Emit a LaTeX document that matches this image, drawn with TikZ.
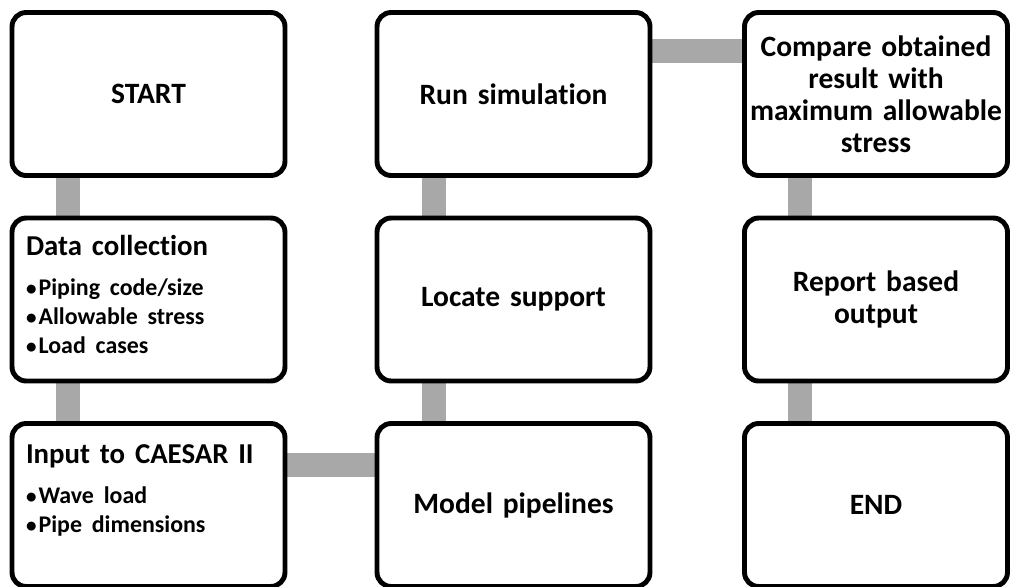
\documentclass[tikz,border=0pt]{standalone}
\usepackage{fontspec}
\setmainfont{Carlito}[Ligatures=NoCommon, WordSpace=0.8]
\usetikzlibrary{backgrounds}
\definecolor{barc}{RGB}{168,168,168}
\tikzset{
	stepbox/.style={fill=white, draw=black, line width=2.8pt, rounded corners=8pt, minimum width=5.46cm, minimum height=3.26cm, inner sep=0pt, text width=5.2cm, align=center, font=\bfseries\fontsize{16.8}{18.2}\selectfont},
	listbox/.style={stepbox, text width=4.9cm, align=left},
	bar/.style={draw=barc, line width=0.48cm},
}
\newcommand{\boxhead}[1]{{\fontsize{16.4}{18.2}\selectfont #1\par}\vspace{6pt}}
\newcommand{\boxitems}[1]{{\fontsize{13.6}{16.5}\selectfont #1\par}}
\newcommand{\itm}{{\fontsize{12}{12}\selectfont\textbullet}\kern1.2pt}

\begin{document}
\begin{tikzpicture}[x=0.02cm, y=-0.02cm]
	\useasboundingbox (0, 0) rectangle (1011, 586);
	% first column
	\node [stepbox] (start) at (148.5, 94) {START};
	\node [listbox] (data) at (148.5, 299.5) {\parbox[c][2.55cm][t]{4.9cm}{\boxhead{Data collection}\boxitems{\itm Piping code/size\\\itm Allowable stress\\\itm Load cases}}};
	\node [listbox] (input) at (148.5, 505) {\parbox[c][2.4cm][t]{4.9cm}{\boxhead{Input to CAESAR II}\boxitems{\itm Wave load\\\itm Pipe dimensions}}};
	% second column
	\node [stepbox] (model) at (513.5, 505) {Model pipelines};
	\node [stepbox] (locate) at (513.5, 299.5) {Locate support};
	\node [stepbox] (run) at (513.5, 94) {Run simulation};
	% third column
	\node [stepbox, minimum width=5.26cm] (compare) at (876, 94) {Compare obtained\\result with\\maximum allowable\\stress};
	\node [stepbox, minimum width=5.26cm] (report) at (876, 299.5) {Report based\\output};
	\node [stepbox, minimum width=5.26cm] (finish) at (876, 505) {END};
	\begin{pgfonlayer}{background}
		\draw [bar] ([xshift=-1.62cm]start.south) to ([xshift=-1.62cm]data.north);
		\draw [bar] ([xshift=-1.62cm]data.south) to ([xshift=-1.62cm]input.north);
		\draw [bar] ([yshift=0.81cm]input.east) to ([yshift=0.81cm]model.west);
		\draw [bar] ([xshift=-1.6cm]model.north) to ([xshift=-1.6cm]locate.south);
		\draw [bar] ([xshift=-1.6cm]locate.north) to ([xshift=-1.6cm]run.south);
		\draw [bar] ([yshift=0.87cm]run.east) to ([yshift=0.87cm]compare.west);
		\draw [bar] ([xshift=-1.53cm]compare.south) to ([xshift=-1.53cm]report.north);
		\draw [bar] ([xshift=-1.53cm]report.south) to ([xshift=-1.53cm]finish.north);
	\end{pgfonlayer}
\end{tikzpicture}
\end{document}
